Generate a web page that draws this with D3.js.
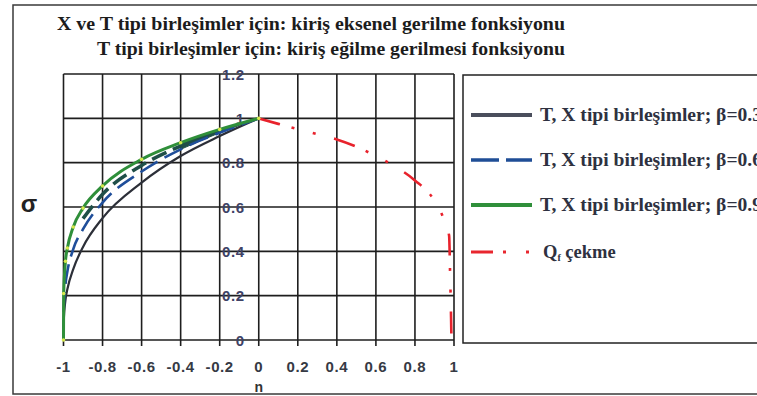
<!DOCTYPE html>
<html>
<head>
<meta charset="utf-8">
<script src="https://cdn.jsdelivr.net/npm/d3@7"></script>
<style>
  html, body { margin: 0; padding: 0; background: #fff; }
  svg { display: block; }
  .serif { font-family: "Liberation Serif", "Times New Roman", "DejaVu Serif", serif; }
  .sans { font-family: "Liberation Sans", Arial, "DejaVu Sans", sans-serif; }
</style>
</head>
<body>
<svg id="chart" width="757" height="396"></svg>
<script>
// Chord stress functions: compression side (n < 0) for three β values, tension side Qf
const nCompression = [-1, -0.999, -0.99, -0.98, -0.95, -0.9, -0.8, -0.6, -0.4, -0.2, 0];
const sigmaBeta03 = [0, 0.08, 0.18, 0.23, 0.32, 0.42, 0.55, 0.71, 0.83, 0.92, 1];
const sigmaBeta06 = [0, 0.13, 0.25, 0.31, 0.41, 0.50, 0.62, 0.76, 0.86, 0.935, 1];
const sigmaBeta09 = [0, 0.21, 0.355, 0.415, 0.51, 0.595, 0.695, 0.815, 0.89, 0.95, 1];

const nTension = [0, 0.1, 0.2, 0.3, 0.4, 0.5, 0.6, 0.7, 0.8, 0.9, 0.95, 0.975, 0.98, 0.985, 0.987];
const sigmaTension = [1, 0.975, 0.951, 0.928, 0.905, 0.872, 0.83, 0.782, 0.72, 0.628, 0.54, 0.47, 0.3, 0.1, 0];

const nTicks = [-1, -0.8, -0.6, -0.4, -0.2, 0, 0.2, 0.4, 0.6, 0.8, 1];
const nTickLabels = ["-1", "-0.8", "-0.6", "-0.4", "-0.2", "0", "0.2", "0.4", "0.6", "0.8", "1"];
const sigmaTicks = [0, 0.2, 0.4, 0.6, 0.8, 1, 1.2];
const sigmaTickLabels = ["0", "0.2", "0.4", "0.6", "0.8", "1", "1.2"];

const titleLines = [
  "X ve T tipi birleşimler için: kiriş eksenel gerilme fonksiyonu",
  "T tipi birleşimler için: kiriş eğilme gerilmesi fonksiyonu"
];
const seriesNames = [
  "T, X tipi birleşimler; β=0.3",
  "T, X tipi birleşimler; β=0.6",
  "T, X tipi birleşimler; β=0.9"
];

const svg = d3.select("#chart");

const x = d3.scaleLinear().domain([-1, 1]).range([63.5, 454]);
const y = d3.scaleLinear().domain([0, 1.2]).range([340, 74]);

// outer frame
svg.append("rect")
  .attr("x", 13).attr("y", 5).attr("width", 770).attr("height", 389)
  .attr("fill", "#fff").attr("stroke", "#3a3a3a").attr("stroke-width", 1.5);

// titles
const titleX = [57, 97], titleY = [30, 55], titleW = [508, 468];
svg.selectAll("text.title").data(titleLines).join("text")
  .attr("class", "title serif")
  .attr("x", (d, i) => titleX[i]).attr("y", (d, i) => titleY[i])
  .attr("textLength", (d, i) => titleW[i])
  .attr("lengthAdjust", "spacingAndGlyphs")
  .attr("font-weight", "bold")
  .attr("font-size", 18)
  .attr("fill", "#1c1c1c")
  .text(d => d);

// grid
const grid = svg.append("g").attr("stroke", "#1e1e1e").attr("stroke-width", 1.6);
grid.selectAll("line.v").data(nTicks).join("line")
  .attr("class", "v")
  .attr("x1", d => x(d)).attr("x2", d => x(d))
  .attr("y1", y(1.2)).attr("y2", y(0) + 6);
grid.selectAll("line.h").data(sigmaTicks).join("line")
  .attr("class", "h")
  .attr("x1", x(-1)).attr("x2", x(1))
  .attr("y1", d => y(d)).attr("y2", d => y(d));

// tick labels
svg.selectAll("text.xt").data(nTicks).join("text")
  .attr("class", "xt sans")
  .attr("x", d => x(d)).attr("y", 372)
  .attr("text-anchor", "middle")
  .attr("font-weight", "bold").attr("font-size", 15)
  .attr("letter-spacing", 0.6)
  .attr("fill", "#363a44")
  .text((d, i) => nTickLabels[i]);

svg.selectAll("text.yt").data(sigmaTicks).join("text")
  .attr("class", "yt sans")
  .attr("x", x(0) - 14).attr("y", d => y(d) + 5.5)
  .attr("text-anchor", "end")
  .attr("font-weight", "bold").attr("font-size", 15)
  .attr("letter-spacing", 0.6)
  .attr("fill", "#3e4266")
  .text((d, i) => sigmaTickLabels[i]);

// axis titles
svg.append("text").attr("class", "sans").attr("x", 29).attr("y", 212)
  .attr("text-anchor", "middle")
  .attr("font-weight", "bold").attr("font-size", 24)
  .attr("fill", "#222").text("σ");
svg.append("text").attr("class", "sans").attr("x", x(0)).attr("y", 392)
  .attr("text-anchor", "middle")
  .attr("font-weight", "bold").attr("font-size", 14)
  .attr("fill", "#333").text("n");

// series
const compRows = nCompression.map((n, i) => ({ n, b3: sigmaBeta03[i], b6: sigmaBeta06[i], b9: sigmaBeta09[i] }));
const tensRows = nTension.map((n, i) => ({ n, s: sigmaTension[i] }));

const lineOf = key => d3.line().x(d => x(d.n)).y(d => y(d[key])).curve(d3.curveMonotoneX);

const plot = svg.append("g").attr("fill", "none");

// β=0.3
plot.append("path").datum(compRows)
  .attr("d", lineOf("b3"))
  .attr("stroke", "#2c2f38").attr("stroke-width", 2.2);

// dark band between β=0.6 and β=0.9 curves
const midRows = compRows.filter(d => d.n >= -0.92 && d.n <= -0.4).map(d => ({ n: d.n, m: (d.b6 + d.b9) / 2 }));
plot.append("path").datum(midRows)
  .attr("d", lineOf("m"))
  .attr("stroke", "#1f4f48").attr("stroke-width", 3.5)
  .attr("stroke-dasharray", "16,7");
plot.append("path").datum(compRows.filter(d => d.n >= -0.4))
  .attr("d", d3.area().x(d => x(d.n)).y0(d => y(d.b6)).y1(d => y(d.b9)).curve(d3.curveMonotoneX))
  .attr("fill", "#1f4f48").attr("stroke", "#1f4f48").attr("stroke-width", 1);

// β=0.6
plot.append("path").datum(compRows)
  .attr("d", lineOf("b6"))
  .attr("stroke", "#1f4e9a").attr("stroke-width", 2.6)
  .attr("stroke-dasharray", "20,8");

// β=0.9
plot.append("path").datum(compRows)
  .attr("d", lineOf("b9"))
  .attr("stroke", "#2f8f3a").attr("stroke-width", 3);
svg.append("g").selectAll("circle").data(compRows).join("circle")
  .attr("cx", d => x(d.n)).attr("cy", d => y(d.b9)).attr("r", 1.8)
  .attr("fill", "#d6e84e");

// Qf tension
plot.append("path").datum(tensRows)
  .attr("d", lineOf("s"))
  .attr("stroke", "#e8222c").attr("stroke-width", 2.6)
  .attr("stroke-dasharray", "22,12,3,19,3,19");

// legend
svg.append("rect")
  .attr("x", 463).attr("y", 75).attr("width", 320).attr("height", 268)
  .attr("fill", "#fff").attr("stroke", "#222").attr("stroke-width", 1.5);

const legendItems = [
  { label: seriesNames[0], color: "#4a4e5c", width: 4, dash: null },
  { label: seriesNames[1], color: "#1f4e96", width: 3.5, dash: "28,7" },
  { label: seriesNames[2], color: "#2f8f3a", width: 4, dash: null },
  { label: "Q", color: "#e8262e", width: 3, dash: "22,10,3,20,3,20" }
];
const legendY = [115, 160, 205, 252];
const lg = svg.append("g").selectAll("g").data(legendItems).join("g")
  .attr("transform", (d, i) => `translate(0,${legendY[i]})`);
lg.append("line")
  .attr("x1", 471).attr("x2", 532).attr("y1", 0).attr("y2", 0)
  .attr("stroke", d => d.color).attr("stroke-width", d => d.width)
  .attr("stroke-dasharray", d => d.dash);
const lt = lg.append("text")
  .attr("class", "serif")
  .attr("x", (d, i) => i === 3 ? 543 : 540).attr("y", 6)
  .attr("font-weight", "bold").attr("font-size", 18.5)
  .attr("fill", "#2e3140");
lt.filter((d, i) => i < 3)
  .attr("textLength", 222).attr("lengthAdjust", "spacingAndGlyphs")
  .text(d => d.label);
const qf = lt.filter((d, i) => i === 3);
qf.append("tspan").text("Q");
qf.append("tspan").attr("font-size", 10).attr("dy", 3).text("f");
qf.append("tspan").attr("dy", -3).text(" çekme");
</script>
</body>
</html>
